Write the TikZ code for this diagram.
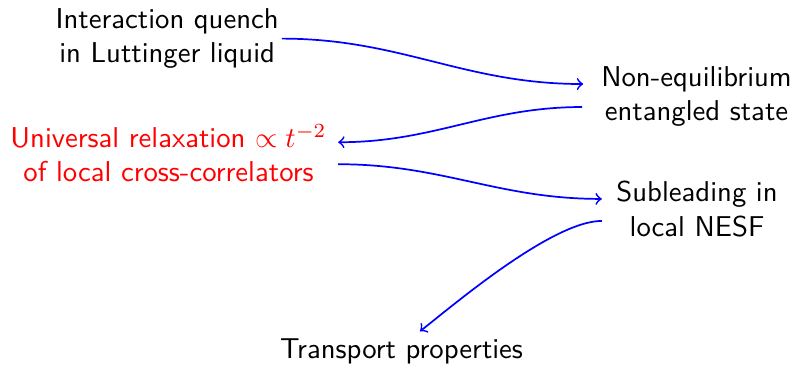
\documentclass[tikz,border=0pt]{standalone}
\usetikzlibrary{calc}
\begin{document}
\begin{tikzpicture}[x=0.3484pt,y=-0.3484pt,
  every node/.style={inner sep=0pt, font=\sffamily, align=center},
  conn/.style={->, blue, semithick}]
\useasboundingbox (0,0) rectangle (796,364);
\node (A) at (167.2,38.6) {Interaction quench\\in Luttinger liquid};
\node (B) at (696.5,96.5) {Non-equilibrium\\entangled state};
\node[text=red] (C) at (168.5,153.2) {Universal relaxation $\propto t^{-2}$\\of local cross-correlators};
\node (D) at (697,208.9) {Subleading in\\local NESF};
\node (E) at (401.5,351) {Transport properties};
\draw[conn] ([shift={(2.5,0)}]A.east) to[out=0,in=180] ([shift={(-17.5,-12.5)}]B.west);
\draw[conn] ([shift={(-18.5,10.5)}]B.west) to[out=180,in=0] ([shift={(11,-11)}]C.east);
\draw[conn] ([shift={(11,11)}]C.east) to[out=0,in=180] ([shift={(-14,-10)}]D.west);
\draw[conn] ([shift={(-14,12)}]D.west) .. controls +(-50,0) and +(31.5,-24.6) .. ([shift={(18.5,-6.5)}]E.north);
\end{tikzpicture}
\end{document}
